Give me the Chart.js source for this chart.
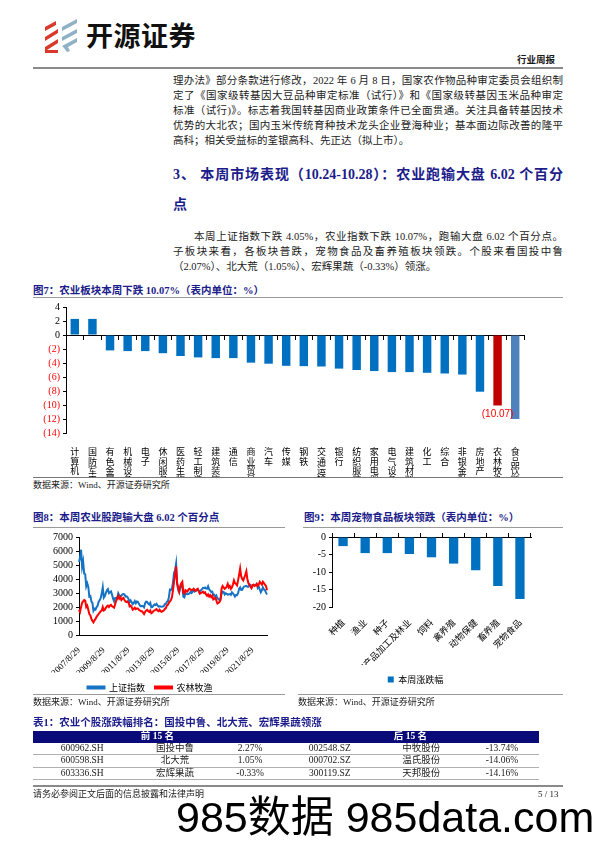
<!DOCTYPE html>
<html>
<head>
<meta charset="utf-8">
<script src="https://cdn.jsdelivr.net/npm/chart.js@4.4.0/dist/chart.umd.min.js"></script>
<style>
  body { margin:0; width:596px; height:842px; position:relative; background:#fff; overflow:hidden;
         font-family:"Liberation Serif","Noto Sans CJK SC",serif; color:#1a1a1a; }
  .abs { position:absolute; }
  .ln { position:absolute; left:173px; width:390px; font-size:10.5px; line-height:14px; height:14px;
        text-align:justify; text-align-last:justify; }
  .ln.last { text-align-last:left; }
  .hd { position:absolute; left:173px; width:390px; font-size:14px; font-weight:bold; color:#1c1c8a;
        line-height:18px; text-align:justify; text-align-last:justify; }
  .fig { position:absolute; font-size:10.5px; font-weight:bold; color:#1c1c8a; line-height:14px; white-space:nowrap; }
  .rule { position:absolute; height:1px; background:#9a9a9a; }
  .src { position:absolute; font-size:9px; line-height:12px; white-space:nowrap; }
  canvas { position:absolute; }
  table { position:absolute; border-collapse:collapse; font-size:9.5px; }
  td { text-align:center; padding:0; height:11.6px; line-height:11px; border-bottom:0.8px solid #b0b0b0; }
  tr.th td { background:#0a0a78; color:#fff; font-weight:bold; border-bottom:none; height:11.5px; }
</style>
</head>
<body>

<!-- 页眉 -->
<svg class="abs" style="left:42px;top:17px" width="40" height="38" viewBox="0 0 40 38">
  <polygon points="3,10 14,4 14,8 3,14" fill="#d9392b"/>
  <polygon points="3,20 16,12 16,16 3,24" fill="#d9392b"/>
  <polygon points="3,30 16,22 16,26 5,33 16,33 16,36 3,36" fill="#d9392b"/>
  <polygon points="20,10 35,2 35,6 20,14" fill="#8fb1c6"/>
  <polygon points="20,20 35,12 35,16 20,24" fill="#8fb1c6"/>
  <polygon points="20,29 35,21 35,25 26,30 28,34 25,35 22,31" fill="#8fb1c6"/>
</svg>
<div class="abs" style="left:86px;top:18px;font-family:'Noto Sans CJK SC';font-weight:bold;font-size:27px;line-height:34px;color:#111;letter-spacing:0.5px">开源证券</div>
<div class="abs" style="left:517px;top:54px;font-size:9.5px;font-weight:bold;line-height:12px">行业周报</div>
<div class="rule" style="left:33px;top:67px;width:530px;height:2px;background:#8a8a8a"></div>

<!-- 正文 -->
<div class="ln" style="top:74px">理办法》部分条款进行修改，2022 年 6 月 8 日，国家农作物品种审定委员会组织制</div>
<div class="ln" style="top:89px">定了《国家级转基因大豆品种审定标准（试行）》和《国家级转基因玉米品种审定</div>
<div class="ln" style="top:104px">标准（试行)》。标志着我国转基因商业政策条件已全面贯通。关注具备转基因技术</div>
<div class="ln" style="top:119px">优势的大北农；国内玉米传统育种技术龙头企业登海种业；基本面边际改善的隆平</div>
<div class="ln last" style="top:134px">高科；相关受益标的荃银高科、先正达（拟上市）。</div>

<div class="hd" style="top:166px">3、 本周市场表现（10.24-10.28）：农业跑输大盘 6.02 个百分</div>
<div class="hd" style="top:196px;text-align-last:left">点</div>

<div class="ln" style="top:230px;left:194px;width:369px">本周上证指数下跌 4.05%，农业指数下跌 10.07%，跑输大盘 6.02 个百分点。</div>
<div class="ln" style="top:245px">子板块来看，各板块普跌，宠物食品及畜养殖板块领跌。个股来看国投中鲁</div>
<div class="ln last" style="top:260px">（2.07%）、北大荒（1.05%）、宏辉果蔬（-0.33%）领涨。</div>

<!-- 图7 -->
<div class="fig" style="left:33px;top:284px">图7：农业板块本周下跌 10.07%（表内单位：%）</div>
<div class="rule" style="left:33px;top:297px;width:530px"></div>
<canvas id="c7" width="530" height="180" style="left:33px;top:298px"></canvas>
<div class="rule" style="left:33px;top:477px;width:530px;background:#777"></div>
<div class="src" style="left:33px;top:479px">数据来源：Wind、开源证券研究所</div>

<!-- 图8 -->
<div class="fig" style="left:33px;top:511px">图8：本周农业股跑输大盘 6.02 个百分点</div>
<div class="rule" style="left:33px;top:527px;width:252px"></div>
<canvas id="c8" width="252" height="174" style="left:33px;top:528px"></canvas>
<div class="rule" style="left:33px;top:694px;width:252px"></div>
<div class="src" style="left:33px;top:696px">数据来源：Wind、开源证券研究所</div>

<!-- 图9 -->
<div class="fig" style="left:304px;top:511px">图9：本周宠物食品板块领跌（表内单位：%）</div>
<div class="rule" style="left:303px;top:527px;width:260px"></div>
<canvas id="c9" width="263" height="166" style="left:300px;top:528px"></canvas>
<div class="rule" style="left:298px;top:694px;width:265px"></div>
<div class="src" style="left:298px;top:696px">数据来源：Wind、开源证券研究所</div>

<!-- 表1 -->
<div class="fig" style="left:33px;top:716px">表1：农业个股涨跌幅排名：国投中鲁、北大荒、宏辉果蔬领涨</div>
<table style="left:33px;top:731px;width:506px">
  <tr class="th"><td colspan="3">前 15 名</td><td colspan="3">后 15 名</td></tr>
  <tr><td>600962.SH</td><td>国投中鲁</td><td>2.27%</td><td>002548.SZ</td><td>中牧股份</td><td>-13.74%</td></tr>
  <tr><td>600598.SH</td><td>北大荒</td><td>1.05%</td><td>000702.SZ</td><td>温氏股份</td><td>-14.06%</td></tr>
  <tr><td>603336.SH</td><td>宏辉果蔬</td><td>-0.33%</td><td>300119.SZ</td><td>天邦股份</td><td>-14.16%</td></tr>
</table>

<!-- 页脚 -->
<div class="rule" style="left:33px;top:785px;width:530px;height:2px;background:#8a8a8a"></div>
<div class="src" style="left:33px;top:788px">请务必参阅正文后面的信息披露和法律声明</div>
<div class="src" style="left:538px;top:788px">5 / 13</div>
<div class="abs" style="left:176px;top:793px;font-family:'Liberation Sans','Noto Sans CJK SC';font-size:43px;line-height:48px;color:#000;white-space:nowrap">985数据 985data.com</div>

<script>
// 图7 行业涨跌幅（%）
const fig7Cats = ['计算机','国防军工','有色金属','机械设备','电子','休闲服务','医药生物','轻工制造','建筑装饰',
  '通信','商业贸易','汽车','传媒','钢铁','交通运输','银行','纺织服装','家用电器','电气设备','建筑材料',
  '化工','综合','非银金融','房地产','农林牧渔','食品饮料'];
const fig7Vals = [2.3, 2.3, -2.2, -2.3, -2.3, -2.6, -3.0, -3.2, -3.3, -3.3, -3.95, -4.1, -4.4, -4.45,
  -4.5, -4.8, -5.0, -5.15, -5.3, -5.3, -5.4, -5.5, -5.65, -8.1, -10.07, -12.0];
const fig7Ticks = [4, 2, 0, -2, -4, -6, -8, -10, -12, -14];
const fig7Labelled = '农林牧渔';

// 图8 指数走势（月度）
const fig8Start = [2007, 8];
const fig8XTicks = ['2007/8/29','2009/8/29','2011/8/29','2013/8/29','2015/8/29','2017/8/29','2019/8/29','2021/8/29'];
const shIndex = [
  5219, 5552, 6092, 4871, 5262,
  4383, 4348, 3473, 3693, 3433, 2736, 2776, 2397, 2293, 1729, 1871, 1821,
  1991, 2082, 2373, 2477, 2633, 2959, 3412, 2667, 2779, 2996, 3195, 3277,
  2989, 3051, 3109, 2871, 2592, 2398, 2638, 2638, 2656, 2979, 2820, 2808,
  2791, 2905, 2928, 2911, 2743, 2762, 2701, 2568, 2359, 2469, 2333, 2199,
  2292, 2428, 2263, 2397, 2373, 2225, 2103, 2047, 2086, 2069, 1980, 2269,
  2385, 2365, 2237, 2178, 2301, 1979, 1994, 2098, 2175, 2141, 2220, 2116,
  2033, 2056, 2033, 2026, 2039, 2048, 2202, 2217, 2364, 2420, 2683, 3235,
  3210, 3310, 3748, 4442, 4612, 5100, 3664, 3206, 3053, 3383, 3446, 3539,
  2738, 2688, 3004, 2938, 2917, 2930, 2979, 3085, 3005, 3100, 3250, 3104,
  3159, 3242, 3223, 3155, 3117, 3192, 3273, 3361, 3349, 3393, 3317, 3307,
  3481, 3259, 3169, 3082, 3095, 2847, 2876, 2725, 2821, 2603, 2588, 2494,
  2585, 2941, 3091, 3078, 2899, 2979, 2933, 2886, 2905, 2929, 2872, 3050,
  2977, 2880, 2750, 2860, 2852, 2985, 3310, 3396, 3218, 3225, 3392, 3473,
  3483, 3509, 3441, 3447, 3615, 3591, 3397, 3544, 3568, 3547, 3564, 3640,
  3361, 3462, 3252, 3047, 3186, 3399, 3253, 3202, 3024, 2893
];
const agriIndex = [
  1800, 1650, 2000, 2300, 2400,
  2500, 2450, 2000, 2100, 1800, 1500, 1400, 1150, 1000, 900, 1050, 1150,
  1300, 1400, 1500, 1600, 1700, 1750, 2000, 1750, 1800, 1950, 2050, 2100,
  2000, 2100, 2150, 2050, 2000, 1950, 2200, 2450, 2600, 2800, 2600, 2700,
  2500, 2600, 2650, 2500, 2400, 2350, 2400, 2300, 2050, 2100, 2000, 1800,
  1850, 1950, 1850, 1900, 1900, 1800, 1750, 1700, 1700, 1600, 1500, 1650,
  1750, 1800, 1700, 1650, 1750, 1550, 1600, 1700, 1750, 1800, 1850, 1750,
  1700, 1800, 1700, 1650, 1700, 1750, 1850, 1900, 2100, 2150, 2300, 2400,
  2500, 2700, 3200, 3800, 4300, 4900, 3700, 3400, 3100, 3500, 3700, 3800,
  3000, 2950, 3200, 3150, 3100, 3250, 3300, 3250, 3200, 3250, 3300, 3200,
  3150, 3250, 3300, 3100, 2950, 3000, 3050, 3100, 3000, 3050, 2900, 2800,
  2900, 2750, 2850, 2700, 2800, 2550, 2600, 2650, 2450, 2250, 2300, 2350,
  2500, 3300, 3500, 3400, 3300, 3350, 3450, 3650, 3400, 3500, 3300, 3400,
  3600, 3900, 3700, 3650, 3550, 3900, 4300, 4750, 4200, 4000, 3900, 4100,
  4300, 4550, 4000, 3700, 3600, 3450, 3350, 3550, 3600, 3500, 3550, 3650,
  3500, 3600, 3800, 3700, 3600, 3800, 3700, 3600, 3500, 3200
];

// 图9 农业子板块涨跌幅（%）
const fig9Cats = ['种植','渔业','种子','农产品加工及林业','饲料','禽养殖','动物保健','畜养殖','宠物食品'];
const fig9Vals = [-2.6, -4.6, -4.6, -4.85, -5.8, -7.6, -9.5, -14.0, -17.7];

const SERIF = '"Liberation Serif","Noto Sans CJK SC",serif';
const CJK = '"Noto Sans CJK SC",sans-serif';
Chart.defaults.font.family = SERIF;
Chart.defaults.color = '#000';

const base = { animation:false, responsive:false, devicePixelRatio:1 };

// ---- 图7 ----
const fig7Colors = fig7Cats.map((c, i) =>
  c === fig7Labelled ? '#c00000' : (i === fig7Cats.length - 1 ? '#4f81bd' : '#0070c0'));

const valueLabel = {
  id: 'valueLabel',
  afterDatasetsDraw(chart) {
    const idx = fig7Cats.indexOf(fig7Labelled);
    const bar = chart.getDatasetMeta(0).data[idx];
    const ctx = chart.ctx;
    ctx.save();
    ctx.fillStyle = '#ff0000';
    ctx.font = '10px "Liberation Sans"';
    ctx.textAlign = 'center';
    ctx.textBaseline = 'top';
    ctx.fillText('(' + Math.abs(fig7Vals[idx]).toFixed(2) + ')', bar.x, bar.y + 4);
    ctx.restore();
  }
};

new Chart(document.getElementById('c7'), {
  type: 'bar',
  data: {
    labels: fig7Cats.map(s => s.split('')),
    datasets: [{ data: fig7Vals, backgroundColor: fig7Colors, barPercentage: 0.48, categoryPercentage: 1 }]
  },
  options: {
    ...base,
    layout: { padding: { top: 4, right: 39, left: 0, bottom: 0 } },
    plugins: { legend: { display: false }, tooltip: { enabled: false } },
    scales: {
      x: {
        position: { y: 0 }, offset: true,
        grid: { offset: true, drawOnChartArea: false, tickLength: 4, color: '#000' },
        border: { color: '#000' },
        ticks: { display: false }
      },
      x2: {
        type: 'category', position: 'bottom', offset: true,
        grid: { display: false }, border: { display: false },
        ticks: { font: { size: 9, family: CJK, lineHeight: 1.05 }, color: '#000',
                 maxRotation: 0, minRotation: 0, autoSkip: false, padding: 6 },
        afterFit: s => { s.height = 45; }
      },
      y: {
        min: Math.min(...fig7Ticks), max: Math.max(...fig7Ticks),
        afterBuildTicks: s => { s.ticks = fig7Ticks.map(v => ({ value: v })); },
        ticks: {
          autoSkip: false,
          font: { size: 10 },
          color: c => c.tick.value < 0 ? '#ff0000' : '#000',
          callback: v => v < 0 ? '(' + (-v) + ')' : String(v),
          padding: 3
        },
        grid: { drawOnChartArea: false, tickLength: 3, color: '#000' },
        border: { color: '#000' },
        afterFit: s => { s.width = 33; }
      }
    }
  },
  plugins: [valueLabel]
});

// ---- 图8 ----
const months = [];
for (let i = 0; i < shIndex.length; i++) {
  const m = fig8Start[1] - 1 + i;
  months.push((fig8Start[0] + Math.floor(m / 12)) + '/' + (m % 12 + 1) + '/29');
}

new Chart(document.getElementById('c8'), {
  type: 'line',
  data: {
    labels: months,
    datasets: [
      { label: '上证指数', data: shIndex, borderColor: '#1673c4', backgroundColor: '#1673c4',
        borderWidth: 2, pointRadius: 0, order: 1 },
      { label: '农林牧渔', data: agriIndex, borderColor: '#ff0000', backgroundColor: '#ff0000',
        borderWidth: 2, pointRadius: 0, order: 0 }
    ]
  },
  options: {
    ...base,
    layout: { padding: { top: 8, right: 18, left: 0, bottom: 0 } },
    plugins: {
      tooltip: { enabled: false },
      legend: {
        position: 'bottom',
        labels: { boxWidth: 17, boxHeight: 2, font: { size: 9, family: CJK }, color: '#000', padding: 10,
                  sort: (a, b) => a.datasetIndex - b.datasetIndex }
      }
    },
    scales: {
      x: {
        grid: { display: false },
        border: { color: '#000' },
        ticks: {
          autoSkip: false, maxRotation: 45, minRotation: 45, font: { size: 9 }, padding: 2,
          callback: function (v) { const l = this.getLabelForValue(v); return fig8XTicks.includes(l) ? l : ''; }
        },
        afterFit: s => { s.height = 38; }
      },
      y: {
        min: 0, max: 7000,
        ticks: { stepSize: 1000, autoSkip: false, font: { size: 10 }, padding: 3, callback: v => String(v) },
        grid: { drawOnChartArea: false, tickLength: 3, color: '#000' },
        border: { color: '#000' },
        afterFit: s => { s.width = 46; }
      }
    }
  }
});

// ---- 图9 ----
new Chart(document.getElementById('c9'), {
  type: 'bar',
  data: {
    labels: fig9Cats,
    datasets: [{ label: '本周涨跌幅', data: fig9Vals, backgroundColor: '#0070c0',
                 barPercentage: 0.42, categoryPercentage: 1 }]
  },
  options: {
    ...base,
    layout: { padding: { top: 0, right: 32, left: 0, bottom: 0 } },
    plugins: {
      tooltip: { enabled: false },
      legend: {
        position: 'bottom',
        labels: { boxWidth: 6, boxHeight: 6, font: { size: 9, family: CJK }, color: '#000', padding: 10 }
      }
    },
    scales: {
      x: {
        position: 'top', offset: true,
        grid: { offset: true, drawOnChartArea: false, tickLength: 4, color: '#000' },
        border: { color: '#000' },
        ticks: { display: false }
      },
      x2: {
        type: 'category', position: 'bottom', offset: true,
        grid: { display: false }, border: { display: false },
        ticks: { font: { size: 9, family: CJK }, color: '#000', maxRotation: 45, minRotation: 45,
                 autoSkip: false, padding: 2 },
        afterFit: s => { s.height = 58; }
      },
      y: {
        min: -20, max: 0,
        ticks: { stepSize: 5, autoSkip: false, font: { size: 10 }, padding: 3 },
        grid: { drawOnChartArea: false, tickLength: 3, color: '#000' },
        border: { color: '#000' },
        afterFit: s => { s.width = 32; }
      }
    }
  }
});
</script>
</body>
</html>
